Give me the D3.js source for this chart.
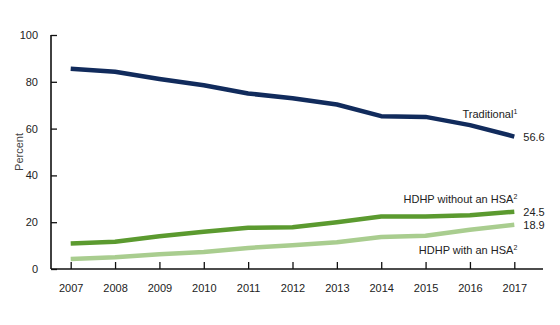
<!DOCTYPE html>
<html>
<head>
<meta charset="utf-8">
<script src="https://cdn.jsdelivr.net/npm/d3@7/dist/d3.min.js"></script>
<style>
  html, body { margin: 0; padding: 0; background: #fff; }
  svg { display: block; font-family: "Liberation Sans", Arial, sans-serif; }
</style>
</head>
<body>
<svg id="chart" width="560" height="325"></svg>
<script>
const years = [2007, 2008, 2009, 2010, 2011, 2012, 2013, 2014, 2015, 2016, 2017];
const traditional = [85.6, 84.3, 81.2, 78.5, 75.0, 73.0, 70.3, 65.3, 65.0, 61.5, 56.6];
const hdhpWithout = [10.9, 11.6, 14.0, 15.9, 17.6, 17.8, 20.0, 22.4, 22.4, 23.0, 24.5];
const hdhpWith = [4.3, 5.0, 6.3, 7.3, 9.0, 10.2, 11.4, 13.7, 14.2, 16.8, 18.9];
const yTicks = [0, 20, 40, 60, 80, 100];

const series = [
  { name: "Traditional", sup: "1", values: traditional, color: "#112b5c" },
  { name: "HDHP without an HSA", sup: "2", values: hdhpWithout, color: "#5b9a2f" },
  { name: "HDHP with an HSA", sup: "2", values: hdhpWith, color: "#a9cd8f" }
];

const svg = d3.select("#chart");
const mLeft = 51, mRight = 543, mTop = 35, mBottom = 269;

const x = d3.scaleLinear().domain([2007, 2017]).range([70.7, 514.3]);
const y = d3.scaleLinear().domain([0, 100]).range([mBottom, mTop]);

// axes
const yAxis = svg.append("g").attr("transform", `translate(${mLeft},0)`)
  .call(d3.axisLeft(y).tickValues(yTicks).tickSize(-6).tickPadding(13).tickFormat(d3.format("d")));
yAxis.select(".domain").attr("d", `M0,${mBottom}V${mTop}`);
const xAxis = svg.append("g").attr("transform", `translate(0,${mBottom})`)
  .call(d3.axisBottom(x).tickValues(years).tickSize(-7).tickPadding(15).tickFormat(d3.format("d")));
xAxis.select(".domain").attr("d", `M${mLeft},0H${mRight}`);

svg.selectAll(".domain").attr("stroke", "#111").attr("stroke-width", 1.6);
svg.selectAll(".tick line").attr("stroke", "#111").attr("stroke-width", 1.3);
svg.selectAll(".tick text").attr("font-size", 11).attr("fill", "#222")
  .attr("font-family", "'Liberation Sans', Arial, sans-serif");

// y label
svg.append("text")
  .attr("transform", `translate(23,${(mTop + mBottom) / 2}) rotate(-90)`)
  .attr("text-anchor", "middle")
  .attr("font-size", 11).attr("fill", "#444")
  .text("Percent");

// lines
const line = d3.line().x((d, i) => x(years[i])).y(d => y(d));
series.forEach(s => {
  svg.append("path")
    .datum(s.values)
    .attr("fill", "none")
    .attr("stroke", s.color)
    .attr("stroke-width", 4.5)
    .attr("stroke-linejoin", "round")
    .attr("d", line);

  const last = s.values[s.values.length - 1];
  svg.append("text")
    .attr("x", x(2017) + 9)
    .attr("y", y(last) + 4)
    .attr("font-size", 11).attr("fill", "#222")
    .text(d3.format(".1f")(last));
});

// series labels
const labelPos = [
  { s: series[0], dy: -19 },
  { s: series[1], dy: -9 },
  { s: series[2], dy: 29 }
];
labelPos.forEach(p => {
  const last = p.s.values[p.s.values.length - 1];
  const t = svg.append("text")
    .attr("x", x(2017) + 3)
    .attr("y", y(last) + p.dy)
    .attr("text-anchor", "end")
    .attr("font-size", 11).attr("fill", "#222");
  t.append("tspan").text(p.s.name);
  t.append("tspan").attr("font-size", 7).attr("dy", -4).text(p.s.sup);
});
</script>
</body>
</html>
